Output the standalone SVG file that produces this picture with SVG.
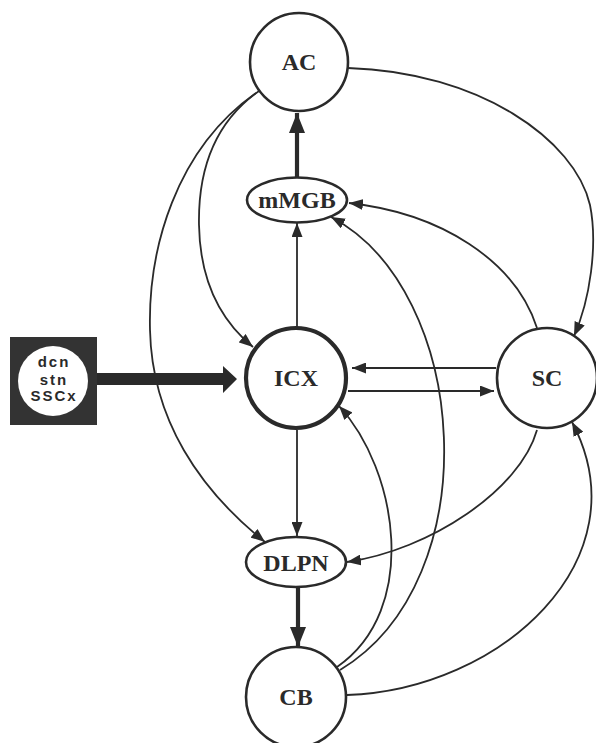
<svg xmlns="http://www.w3.org/2000/svg" width="596" height="743" viewBox="0 0 596 743">
<style>
.n{fill:#fff;stroke:#2a2a2a;stroke-width:2.6}
.thick{stroke-width:4.2}
.t{font-family:"Liberation Serif","Times New Roman",serif;font-weight:bold;font-size:24px;fill:#2a2a2a;text-anchor:middle}
.s{font-family:"Liberation Sans",Arial,sans-serif;font-weight:bold;font-size:15px;fill:#2a2a2a;text-anchor:middle;letter-spacing:2px}
.c{fill:none;stroke:#2a2a2a;stroke-width:1.8}
.c2{fill:none;stroke:#2a2a2a;stroke-width:4.2}
</style>
<defs>
<marker id="a" markerUnits="userSpaceOnUse" markerWidth="14" markerHeight="11" refX="14" refY="5.5" orient="auto"><path d="M0,0 L14,5.5 L0,11 z" fill="#2a2a2a"/></marker>
<marker id="A" markerUnits="userSpaceOnUse" markerWidth="20" markerHeight="16" refX="20" refY="8" orient="auto"><path d="M0,0 L20,8 L0,16 z" fill="#2a2a2a"/></marker>
</defs>
<rect width="596" height="743" fill="#fff"/>
<g id="connectors">
<path class="c2" d="M297,178 L297,113" marker-end="url(#A)"/>
<path class="c2" d="M298,588 L298,647" marker-end="url(#A)"/>
<path class="c" d="M297,327 L297,223" marker-end="url(#a)"/>
<path class="c" d="M297,430 L297,536" marker-end="url(#a)"/>
<path class="c" d="M496,368 L352,368" marker-end="url(#a)"/>
<path class="c" d="M348,391 L494,391" marker-end="url(#a)"/>
<path class="c" d="M348,68 C480,72 575,140 590,205 C598,245 590,300 574,336" marker-end="url(#a)"/>
<path class="c" d="M537,328 C515,260 440,213 349,203" marker-end="url(#a)"/>
<path class="c" d="M340,670 C490,580 470,290 331,217" marker-end="url(#a)"/>
<path class="c" d="M337,667 C420,610 398,470 339,406" marker-end="url(#a)"/>
<path class="c" d="M537,430 C520,490 430,550 347,562" marker-end="url(#a)"/>
<path class="c" d="M347,695 C500,690 645,560 572,422" marker-end="url(#a)"/>
<path class="c" d="M259,91 C215,122 198,170 199,225 C200,280 220,320 253,347" marker-end="url(#a)"/>
<path class="c" d="M256,93 C175,150 148,250 150,330 C152,420 200,490 265,542" marker-end="url(#a)"/>
<path d="M97,373 L223,373 L223,366 L237,379 L223,393 L223,385 L97,385 z" fill="#2a2a2a"/>
</g>
<g id="AC"><circle class="n" cx="299" cy="62" r="49"/><text class="t" x="299" y="70">AC</text></g>
<g id="mMGB"><ellipse class="n" cx="297" cy="200" rx="50" ry="22.5"/><text class="t" x="297" y="208">mMGB</text></g>
<g id="ICX"><circle class="n thick" cx="296" cy="378" r="50"/><text class="t" x="296" y="386">ICX</text></g>
<g id="SC"><circle class="n" cx="547" cy="378" r="50"/><text class="t" x="547" y="386">SC</text></g>
<g id="DLPN"><ellipse class="n" cx="296" cy="562" rx="50" ry="25"/><text class="t" x="296" y="571">DLPN</text></g>
<g id="CB"><circle class="n" cx="296" cy="697" r="50"/><text class="t" x="296" y="705">CB</text></g>
<g id="input">
<rect x="10" y="337" width="87" height="88" fill="#333"/>
<circle cx="53" cy="381" r="35" fill="#fff"/>
<text class="s" x="54" y="367">dcn</text>
<text class="s" x="54" y="385">stn</text>
<text class="s" x="54" y="401">SSCx</text>
</g>
</svg>
